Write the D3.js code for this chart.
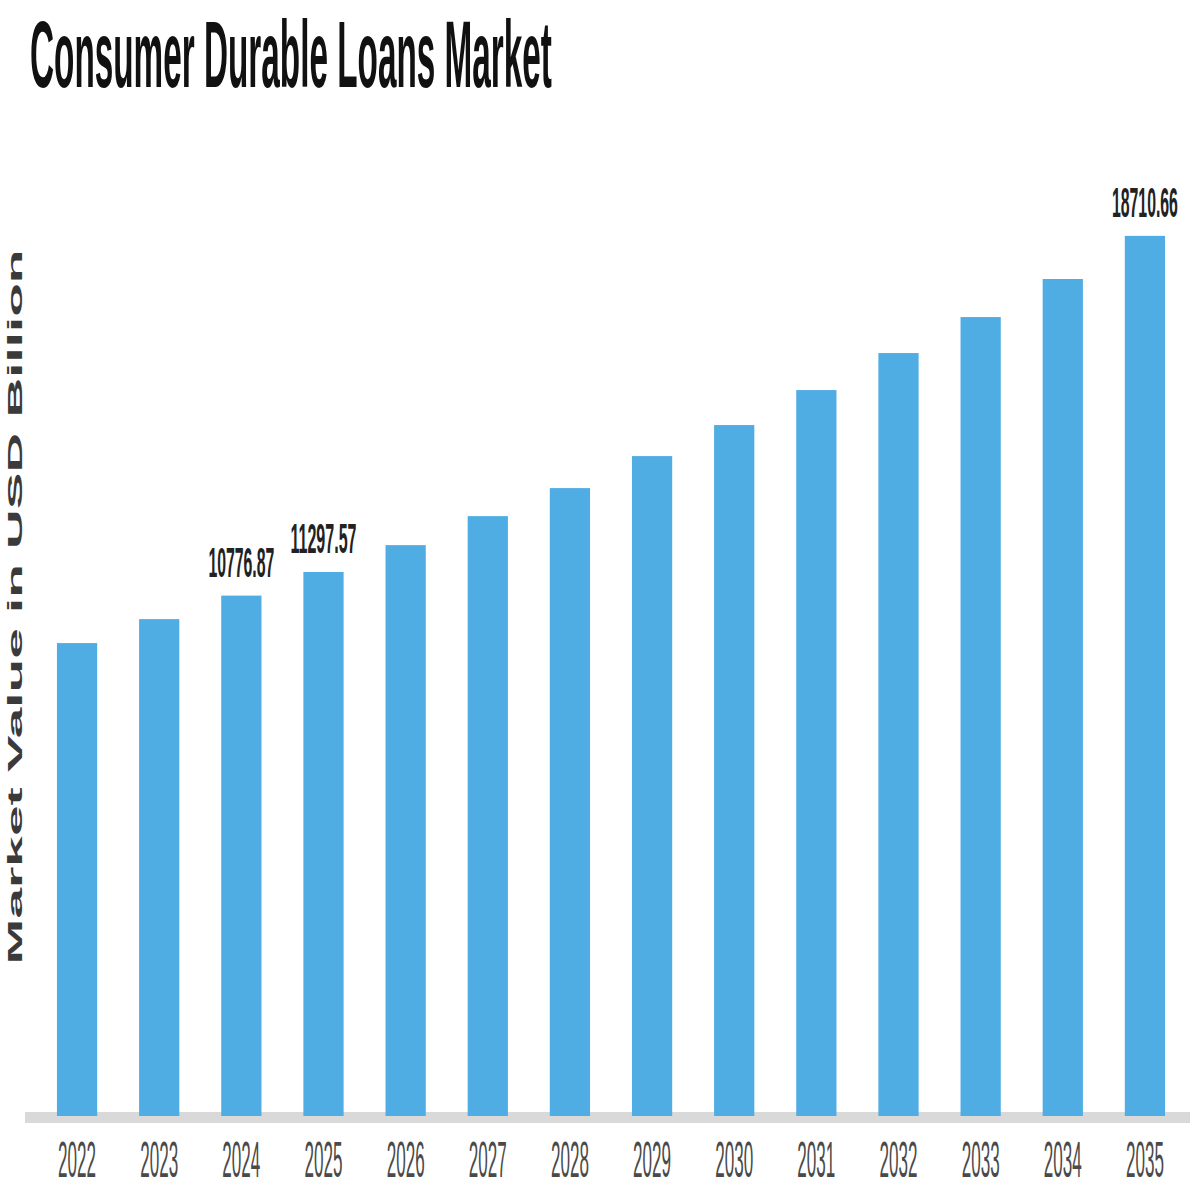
<!DOCTYPE html>
<html><head><meta charset="utf-8">
<script src="https://cdn.jsdelivr.net/npm/d3@7"></script>
<style>body{margin:0;background:#fff}svg{display:block}</style>
</head><body>
<svg id="c" width="1200" height="1200"></svg>
<script>
const years = ["2022","2023","2024","2025","2026","2027","2028","2029","2030","2031","2032","2033","2034","2035"];
const values = [9730, 10258, 10776.87, 11297.57, 11890, 12530, 13148, 13854, 14538, 15310, 16126, 16920, 17759, 18710.66];
const labeledYears = ["2024","2025","2035"];
const labelTexts = ["10776.87","11297.57","18710.66"];
const chartTitle = "Consumer Durable Loans Market";
const yAxisTitle = "Market Value in USD Billion";

const svg = d3.select("#c");
const font = "'Liberation Sans', Arial, sans-serif";

function fit(sel, w, x, y, rot) {
  const len = sel.node().getComputedTextLength();
  const s = w / len;
  sel.attr("transform", `translate(${x},${y})` + (rot ? ` rotate(${rot})` : "") + ` scale(${s},1)`);
}

const x = d3.scaleBand().domain(years).range([36, 1186]).paddingInner(0.51).paddingOuter(0.255);
const y = d3.scaleLinear().domain([-700, 20000]).range([1116, 177.4]);

svg.append("rect").attr("x", 25).attr("y", 1112).attr("width", 1165).attr("height", 11).attr("fill", "#d9d9d9");

svg.append("g").selectAll("rect").data(values).join("rect")
  .attr("x", (d, i) => x(years[i]))
  .attr("width", x.bandwidth())
  .attr("y", d => y(d))
  .attr("height", d => y.range()[0] - y(d))
  .attr("fill", "#50ade4");

labeledYears.forEach((yr, j) => {
  const i = years.indexOf(yr);
  const t = svg.append("text").text(labelTexts[j])
    .attr("font-family", font).attr("font-weight", "bold").attr("font-size", 42)
    .attr("fill", "#222").attr("text-anchor", "middle");
  fit(t, 66, x(yr) + x.bandwidth() / 2, y(values[i]) - 19);
});

const xa = svg.append("g");
years.forEach(yr => {
  const t = xa.append("text").text(yr)
    .attr("font-family", font).attr("font-size", 50)
    .attr("fill", "#4a4a4a").attr("text-anchor", "middle");
  fit(t, 38, x(yr) + x.bandwidth() / 2, 1177);
});

const tt = svg.append("text").text(chartTitle)
  .attr("font-family", font).attr("font-weight", "bold").attr("font-size", 95).attr("fill", "#111");
fit(tt, 522, 30, 87);

const yt = svg.append("text").text(yAxisTitle)
  .attr("font-family", font).attr("font-weight", "bold").attr("font-size", 21)
  .attr("fill", "#3a3a3a").attr("text-anchor", "middle");
fit(yt, 715, 22, 607, -90);
</script>
</body></html>
